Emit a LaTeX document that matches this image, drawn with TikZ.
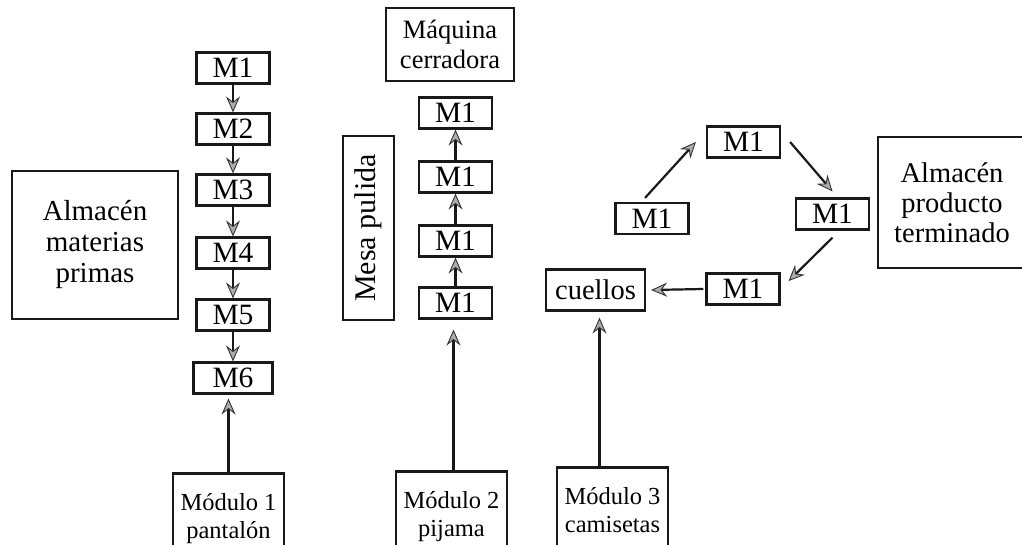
\documentclass[tikz,border=0pt]{standalone}
\usepackage{fontspec}
\setmainfont{Liberation Serif}
\usetikzlibrary{arrows.meta}

\tikzset{
  box/.style={draw=black!90, line width=2.2pt, inner sep=1pt, align=center},
  mbox/.style={box, minimum width=73pt, minimum height=31pt,
    font=\fontsize{29.5}{30}\selectfont},
  bigbox/.style={box, font=\fontsize{29}{31}\selectfont},
  modbox/.style={box, minimum width=111pt, minimum height=91pt,
    font=\fontsize{24.5}{28}\selectfont},
  arr/.style={draw=black!90, line width=2.2pt,
    -{Stealth[length=16pt, width=14pt, inset=5.5pt, color=black!80,
      fill=gray!65, line width=0.9pt]}},
}

\begin{document}
\begin{tikzpicture}[x=1pt, y=-1pt]
\useasboundingbox (0,0) rectangle (1022,545);

% raw material store
\node[bigbox, minimum width=166pt, minimum height=148pt] (amp) at (95,245)
  {Almacén\\materias\\primas};

% module 1: trousers line
\node[mbox] (a1) at (233,68) {M1};
\node[mbox] (a2) at (233,129) {M2};
\node[mbox] (a3) at (233,190) {M3};
\node[mbox] (a4) at (233,253) {M4};
\node[mbox] (a5) at (233,315) {M5};
\node[mbox, minimum width=79pt] (a6) at (233,378) {M6};
\node[modbox] (mod1) at (228.5,519) {Módulo 1\\pantalón};

\draw[arr] (a1.south) -- (a2.north);
\draw[arr] (a2.south) -- (a3.north);
\draw[arr] (a3.south) -- (a4.north);
\draw[arr] (a4.south) -- (a5.north);
\draw[arr] (a5.south) -- (a6.north);
\coordinate (t1) at ([yshift=-4pt]mod1.north |- a6.south);
\draw[arr] (mod1.north) -- (t1);

% module 2: pyjama line
\node[box, minimum width=128pt, minimum height=73pt,
  font=\fontsize{26.5}{30}\selectfont] (maq) at (450,44.5) {Máquina\\cerradora};
\node[bigbox, rotate=90, minimum width=184pt, minimum height=51pt,
  font=\fontsize{30}{31}\selectfont] (mesa) at (368.5,228) {Mesa pulida};
\node[mbox] (b1) at (455.5,113) {M1};
\node[mbox] (b2) at (455.5,177) {M1};
\node[mbox] (b3) at (455.5,241) {M1};
\node[mbox] (b4) at (455.5,303) {M1};
\node[modbox] (mod2) at (451.5,517) {Módulo 2\\pijama};

\draw[arr] (b2.north) -- (b1.south);
\draw[arr] (b3.north) -- (b2.south);
\draw[arr] (b4.north) -- (b3.south);
\coordinate (t2) at ([shift={(-2,10)}]b4.south);
\draw[arr] (t2 |- mod2.north) -- (t2);

% module 3: t-shirt line
\node[mbox] (rt) at (743.5,142) {M1};
\node[mbox] (rl) at (652,218.5) {M1};
\node[mbox] (rr) at (832.5,214) {M1};
\node[mbox] (rb) at (743,289) {M1};
\node[box, minimum width=99pt, minimum height=41pt,
  font=\fontsize{28.5}{30}\selectfont] (cue) at (595.5,290) {cuellos};
\node[modbox] (mod3) at (612.5,513) {Módulo 3\\camisetas\vphantom{p}};

\draw[arr] ([shift={(-7,-4)}]rl.north) -- ([shift={(-10,0)}]rt.west);
\draw[arr] ([shift={(9,0)}]rt.east) -- ([shift={(0,-6)}]rr.north);
\draw[arr] ([shift={(0,7)}]rr.south) -- ([shift={(8,-8)}]rb.east);
\draw[arr] ([xshift=-2pt]rb.west) -- ([xshift=5pt]cue.east);
\coordinate (t3) at ([shift={(4,6)}]cue.south);
\draw[arr] (t3 |- mod3.north) -- (t3);

% finished goods store
\node[bigbox, minimum width=148pt, minimum height=131pt,
  font=\fontsize{28.5}{30}\selectfont] (apt) at (952,202.5)
  {Almacén\\producto\\terminado};
\end{tikzpicture}
\end{document}
